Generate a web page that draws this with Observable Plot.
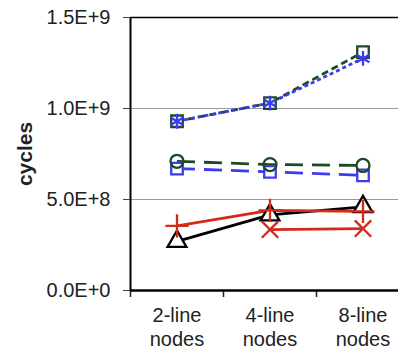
<!DOCTYPE html>
<html>
<head>
<meta charset="utf-8">
<script src="https://cdn.jsdelivr.net/npm/d3@7"></script>
<script src="https://cdn.jsdelivr.net/npm/@observablehq/plot@0.6"></script>
<style>
  html, body { margin: 0; padding: 0; background: #fff; overflow: hidden; }
  svg { font-family: "Liberation Sans", Arial, sans-serif; }
</style>
</head>
<body>
<div id="chart"></div>
<script>
const categories = ["2-line\nnodes", "4-line\nnodes", "8-line\nnodes"];
const yTicks = [0, 5e8, 1e9, 1.5e9];

const greenSquares = [9.3e8, 1.03e9, 1.31e9];
const blueStars = [9.3e8, 1.03e9, 1.275e9];
const greenCircles = [7.1e8, 6.92e8, 6.87e8];
const blueSquares = [6.7e8, 6.52e8, 6.33e8];
const redPlus = [3.55e8, 4.4e8, 4.35e8];
const blackTriangles = [2.7e8, 4.15e8, 4.6e8];
const redTimes = [null, 3.35e8, 3.4e8];

const series = [
  {values: greenSquares, stroke: "#1c4a26", dash: "7,4", symbol: "square", fill: "white", r: 6.5},
  {values: blueStars, stroke: "#3b3bf0", dash: "4,3", symbol: "asterisk", fill: "none", r: 7},
  {values: blueSquares, stroke: "#3b3bf0", dash: "18,9", symbol: "square", fill: "white", r: 6.5},
  {values: greenCircles, stroke: "#1c4a26", dash: "18,9", symbol: "circle", fill: "none", r: 6.5},
  {values: blackTriangles, stroke: "black", dash: null, symbol: "triangle", fill: "white", r: 7},
  {values: redPlus, stroke: "#d42a1a", dash: null, symbol: "plus", fill: "none", r: 7.5},
  {values: redTimes, stroke: "#d42a1a", dash: null, symbol: "times", fill: "none", r: 7.5}
];

const fmt = d => {
  if (d === 0) return "0.0E+0";
  const e = Math.floor(Math.log10(d));
  return (d / 10 ** e).toFixed(1) + "E+" + e;
};

const idx = d3.range(categories.length);
const boundaries = d3.range(categories.length + 1).map(i => i - 0.5);

const marks = [
  Plot.gridY({ticks: [5e8, 1e9], stroke: "#999", strokeOpacity: 1, strokeWidth: 1.2}),
  Plot.ruleY([1.5e9], {stroke: "black", strokeWidth: 1.5}),
  Plot.ruleX([boundaries[0]], {stroke: "black", strokeWidth: 2}),
  Plot.axisY({ticks: yTicks, tickFormat: fmt, tickSize: 7, tickPadding: 13, fontSize: 20, label: null, stroke: "#444"}),
  Plot.axisY({ticks: [], label: "cycles", labelAnchor: "center", labelOffset: 113, labelArrow: "none", fontSize: 21, fontWeight: "bold"}),
  Plot.axisX({ticks: boundaries, tickSize: 7, tickFormat: () => "", label: null, strokeWidth: 1.5}),
  Plot.axisX({ticks: idx, tickSize: 0, tickPadding: 14, tickFormat: i => categories[i], fontSize: 20, lineHeight: 1.2, label: null})
];

for (const s of series) {
  const data = idx.map(i => ({x: i, y: s.values[i]})).filter(d => d.y != null);
  marks.push(Plot.line(data, {x: "x", y: "y", stroke: s.stroke, strokeWidth: 2.8, strokeDasharray: s.dash, strokeLinecap: "butt"}));
}
for (const s of series) {
  const data = idx.map(i => ({x: i, y: s.values[i]})).filter(d => d.y != null);
  marks.push(Plot.dot(data, {x: "x", y: "y", symbol: s.symbol, r: s.r, stroke: s.stroke, fill: s.fill, strokeWidth: 2.3}));
}
marks.push(Plot.ruleY([0], {stroke: "black", strokeWidth: 2.5}));

const chart = Plot.plot({
  width: 398,
  height: 353,
  marginLeft: 130,
  marginRight: 0,
  marginTop: 17,
  marginBottom: 63,
  x: {domain: [boundaries[0], boundaries[boundaries.length - 1]], range: [130, 409]},
  y: {domain: [0, 1.5e9], range: [290, 17]},
  style: {fontFamily: "Liberation Sans, Arial, sans-serif", color: "#222", background: "white"},
  marks
});
document.getElementById("chart").appendChild(chart);
</script>
</body>
</html>
